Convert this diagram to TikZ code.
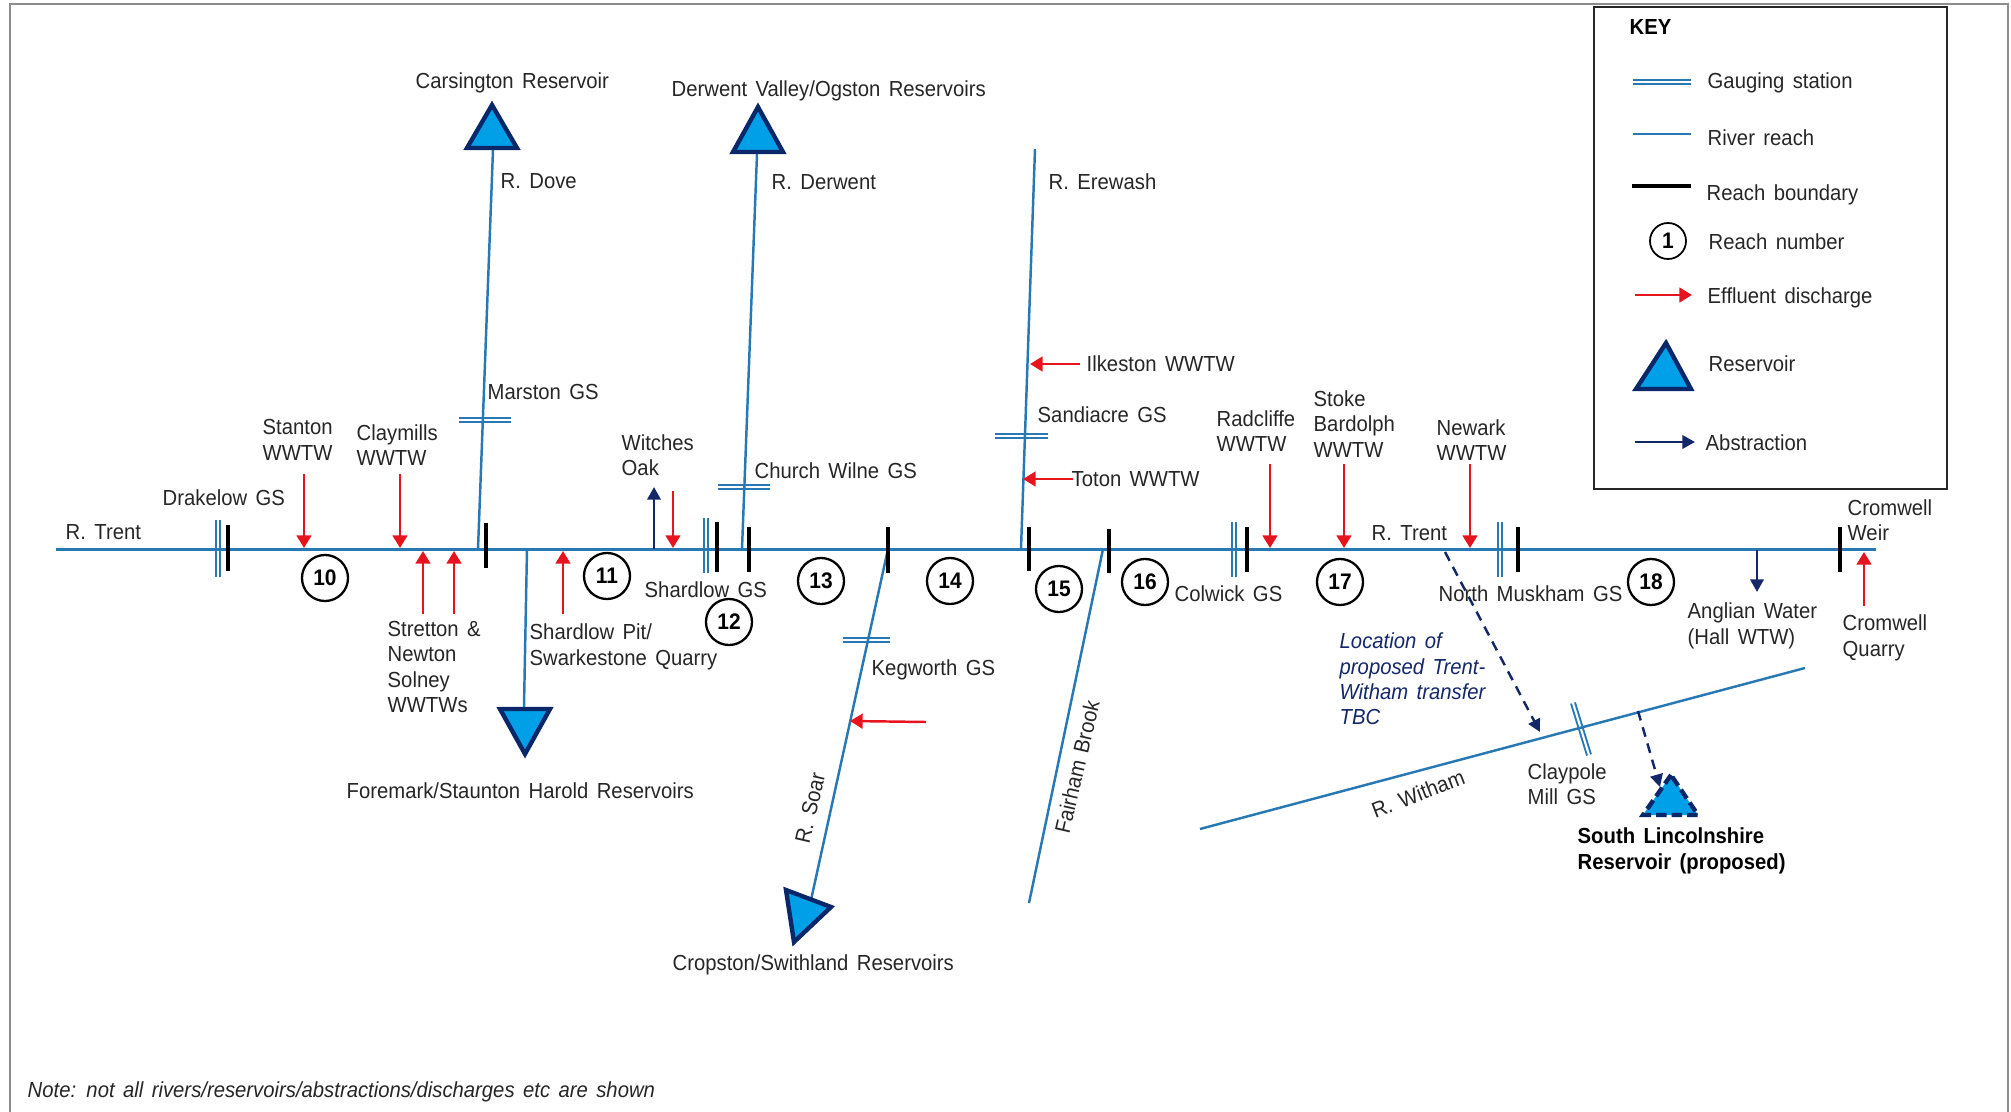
\documentclass[tikz,border=0pt]{standalone}
\usepackage{fontspec}
\setmainfont[WordSpace=1.5,FakeStretch=0.93]{Liberation Sans}
\usetikzlibrary{arrows.meta}
\definecolor{RiverBlue}{RGB}{40,120,180}
\definecolor{ResFill}{RGB}{0,160,232}
\definecolor{ResEdge}{RGB}{10,40,105}
\definecolor{EffRed}{RGB}{230,20,30}
\definecolor{AbsNavy}{RGB}{20,40,105}
\definecolor{LabelGrey}{RGB}{38,38,38}
\definecolor{FrameGrey}{RGB}{140,140,140}

\tikzset{
  lbl/.style={anchor=west, align=left, inner sep=0pt, text=LabelGrey, font=\fontsize{6.2}{7.2}\selectfont},
  river/.style={draw=RiverBlue, line width=.7pt},
  trent/.style={draw=RiverBlue, line width=.95pt},
  gauge/.style={draw=RiverBlue, double=white, line width=.55pt, double distance=.6pt},
  boundary/.style={draw=black, line width=1.35pt},
  reach/.style={draw=black, circle, line width=.65pt, minimum size=.46cm, inner sep=0pt, font=\fontsize{6.4}{7}\selectfont\bfseries},
  effluent/.style={draw=EffRed, line width=.7pt, -{Triangle[length=3.6pt,width=4.2pt]}},
  abstraction/.style={draw=AbsNavy, line width=.7pt, -{Triangle[length=3.6pt,width=3.8pt]}},
  transfer/.style={draw=AbsNavy, line width=.7pt, dash pattern=on 2.8pt off 2pt, -{Triangle[length=3.6pt,width=3.6pt]}},
  resv/.style={draw=ResEdge, fill=ResFill, line width=1.25pt, line join=miter},
}

\begin{document}
\begin{tikzpicture}[x=.01cm, y=-.01cm]
  \useasboundingbox (0,0) rectangle (2011,1112);
  \draw[FrameGrey, line width=.5pt] (10,1112) -- (10,4) -- (2008,4) -- (2008,1112);

  % main river points
  \coordinate (trentW) at (56,549.5);
  \coordinate (trentE) at (1876,549.5);
  \coordinate (doveJ) at (478,549);
  \coordinate (doveN) at (493,150);
  \coordinate (foreJ) at (527,549);
  \coordinate (foreS) at (524,707);
  \coordinate (derwJ) at (742,549);
  \coordinate (derwN) at (757,154);
  \coordinate (soarJ) at (888,549);
  \coordinate (soarS) at (811,900);
  \coordinate (ereJ) at (1021,549);
  \coordinate (ereN) at (1035,149);
  \coordinate (fairJ) at (1103,549);
  \coordinate (fairS) at (1029,903);
  \coordinate (withW) at (1200,829);
  \coordinate (withE) at (1805,668);

  % gauging stations go under the rivers
  \coordinate (g1a) at (218,520); \coordinate (g1b) at (218,577);
  \coordinate (g2a) at (706,518); \coordinate (g2b) at (706,573);
  \coordinate (g3a) at (1234,522); \coordinate (g3b) at (1234,577);
  \coordinate (g4a) at (1500,522); \coordinate (g4b) at (1500,577);
  \coordinate (g5a) at (459,420); \coordinate (g5b) at (511,420);
  \coordinate (g6a) at (718,487); \coordinate (g6b) at (770,487);
  \coordinate (g7a) at (995,436); \coordinate (g7b) at (1048,436);
  \coordinate (g8a) at (843,640); \coordinate (g8b) at (890,640);
  \coordinate (g9a) at (1573,703); \coordinate (g9b) at (1589,755);
  \draw[gauge] (g1a) -- (g1b);
  \draw[gauge] (g2a) -- (g2b);
  \draw[gauge] (g3a) -- (g3b);
  \draw[gauge] (g4a) -- (g4b);
  \draw[gauge] (g5a) -- (g5b);
  \draw[gauge] (g6a) -- (g6b);
  \draw[gauge] (g7a) -- (g7b);
  \draw[gauge] (g8a) -- (g8b);
  \draw[gauge] (g9a) -- (g9b);

  \draw[trent] (trentW) -- (trentE);
  \draw[river] (doveJ) -- (doveN);
  \draw[river] (foreJ) -- (foreS);
  \draw[river] (derwJ) -- (derwN);
  \draw[river] (soarJ) -- (soarS);
  \draw[river] (ereJ) -- (ereN);
  \draw[river] (fairJ) -- (fairS);
  \draw[river] (withW) -- (withE);

  % reach boundaries
  \coordinate (b1a) at (228,525); \coordinate (b1b) at (228,571);
  \coordinate (b2a) at (486,523); \coordinate (b2b) at (486,568);
  \coordinate (b3a) at (717,522); \coordinate (b3b) at (717,572);
  \coordinate (b4a) at (749,527); \coordinate (b4b) at (749,572);
  \coordinate (b5a) at (888,527); \coordinate (b5b) at (888,573);
  \coordinate (b6a) at (1029,527); \coordinate (b6b) at (1029,571);
  \coordinate (b7a) at (1109,529); \coordinate (b7b) at (1109,573);
  \coordinate (b8a) at (1247,527); \coordinate (b8b) at (1247,572);
  \coordinate (b9a) at (1518,527); \coordinate (b9b) at (1518,572);
  \coordinate (b10a) at (1840,527); \coordinate (b10b) at (1840,572);
  \draw[boundary] (b1a) -- (b1b);
  \draw[boundary] (b2a) -- (b2b);
  \draw[boundary] (b3a) -- (b3b);
  \draw[boundary] (b4a) -- (b4b);
  \draw[boundary] (b5a) -- (b5b);
  \draw[boundary] (b6a) -- (b6b);
  \draw[boundary] (b7a) -- (b7b);
  \draw[boundary] (b8a) -- (b8b);
  \draw[boundary] (b9a) -- (b9b);
  \draw[boundary] (b10a) -- (b10b);

  % reach numbers
  \node[reach] (r10) at (325,578) {10};
  \node[reach] (r11) at (607,576) {11};
  \node[reach] (r12) at (729,622) {12};
  \node[reach] (r13) at (821,581) {13};
  \node[reach] (r14) at (950,581) {14};
  \node[reach] (r15) at (1059,589) {15};
  \node[reach] (r16) at (1145,582) {16};
  \node[reach] (r17) at (1340,582) {17};
  \node[reach] (r18) at (1651,582) {18};

  % effluent discharges
  \coordinate (e1a) at (304,474); \coordinate (e1b) at (304,548);
  \coordinate (e2a) at (400,474); \coordinate (e2b) at (400,548);
  \coordinate (e3a) at (423,614); \coordinate (e3b) at (423,551);
  \coordinate (e4a) at (454,614); \coordinate (e4b) at (454,551);
  \coordinate (e5a) at (563,614); \coordinate (e5b) at (563,551);
  \coordinate (e6a) at (673,491); \coordinate (e6b) at (673,548);
  \coordinate (e7a) at (1080,364); \coordinate (e7b) at (1030,364);
  \coordinate (e8a) at (1073,479); \coordinate (e8b) at (1023,479);
  \coordinate (e9a) at (926,722); \coordinate (e9b) at (850,721);
  \coordinate (e10a) at (1270,464); \coordinate (e10b) at (1270,548);
  \coordinate (e11a) at (1344,464); \coordinate (e11b) at (1344,548);
  \coordinate (e12a) at (1470,464); \coordinate (e12b) at (1470,548);
  \coordinate (e13a) at (1864,606); \coordinate (e13b) at (1864,552);
  \draw[effluent] (e1a) -- (e1b);
  \draw[effluent] (e2a) -- (e2b);
  \draw[effluent] (e3a) -- (e3b);
  \draw[effluent] (e4a) -- (e4b);
  \draw[effluent] (e5a) -- (e5b);
  \draw[effluent] (e6a) -- (e6b);
  \draw[effluent] (e7a) -- (e7b);
  \draw[effluent] (e8a) -- (e8b);
  \draw[effluent] (e9a) -- (e9b);
  \draw[effluent] (e10a) -- (e10b);
  \draw[effluent] (e11a) -- (e11b);
  \draw[effluent] (e12a) -- (e12b);
  \draw[effluent] (e13a) -- (e13b);

  % abstractions and proposed transfer
  \coordinate (a1a) at (654,549); \coordinate (a1b) at (654,487);
  \coordinate (a2a) at (1757,550); \coordinate (a2b) at (1757,592);
  \coordinate (t1a) at (1445,552); \coordinate (t1b) at (1540,732);
  \coordinate (t2a) at (1638,711); \coordinate (t2b) at (1660,787);
  \draw[abstraction] (a1a) -- (a1b);
  \draw[abstraction] (a2a) -- (a2b);
  \draw[transfer] (t1a) -- (t1b);

  % reservoirs
  \draw[resv] (492,105) -- (467,148) -- (517,148) -- cycle;
  \draw[resv] (758,107) -- (733,152) -- (783,152) -- cycle;
  \draw[resv] (500,709) -- (550,709) -- (525,754) -- cycle;
  \draw[resv] (786,890) -- (831,907) -- (794,942) -- cycle;
  \draw[resv, dash pattern=on 3pt off 1.4pt] (1671,775) -- (1643,815) -- (1698,815) -- cycle;
  \draw[transfer] (t2a) -- (t2b);

  % labels
  \node[lbl] (carsL) at (415,83) {Carsington Reservoir};
  \node[lbl] (derwL) at (671,91) {Derwent Valley/Ogston Reservoirs};
  \node[lbl] (doveL) at (500,181) {R. Dove};
  \node[lbl] (rderL) at (771,182) {R. Derwent};
  \node[lbl] (ereL) at (1048,182) {R. Erewash};
  \node[lbl] (ilkL) at (1086,364) {Ilkeston WWTW};
  \node[lbl] (marsL) at (487,392) {Marston GS};
  \node[lbl] (sandL) at (1037,415) {Sandiacre GS};
  \node[lbl] (stanL) at (262,440) {Stanton\\WWTW};
  \node[lbl] (clayL) at (356,445) {Claymills\\WWTW};
  \node[lbl] (drakL) at (162,498) {Drakelow GS};
  \node[lbl] (tr1L) at (65,532) {R. Trent};
  \node[lbl] (witcL) at (621,455) {Witches\\Oak};
  \node[lbl] (chuL) at (754,471) {Church Wilne GS};
  \node[lbl] (totL) at (1071,479) {Toton WWTW};
  \node[lbl] (radL) at (1216,431) {Radcliffe\\WWTW};
  \node[lbl] (stoL) at (1313,424) {Stoke\\Bardolph\\WWTW};
  \node[lbl] (newL) at (1436,440) {Newark\\WWTW};
  \node[lbl] (tr2L) at (1371,533) {R. Trent};
  \node[lbl] (weirL) at (1847,520) {Cromwell\\Weir};
  \node[lbl] (strL) at (387,667) {Stretton \&\\Newton\\Solney\\WWTWs};
  \node[lbl] (pitL) at (529,647) {Shardlow Pit/\\Swarkestone Quarry};
  \node[lbl] (shaL) at (644,590) {Shardlow GS};
  \node[lbl] (foreL) at (346,791) {Foremark/Staunton Harold Reservoirs};
  \node[lbl] (kegL) at (871,670) {Kegworth GS};
  \node[lbl, anchor=center, rotate=77] (soarL) at (810,808) {R. Soar};
  \node[lbl, anchor=center, rotate=77] (fairL) at (1077,767) {Fairham Brook};
  \node[lbl] (cropL) at (672,965) {Cropston/Swithland Reservoirs};
  \node[lbl] (colL) at (1174,594) {Colwick GS};
  \node[lbl] (muskL) at (1438,594) {North Muskham GS};
  \node[lbl] (angL) at (1687,626) {Anglian Water\\(Hall WTW)};
  \node[lbl] (quaL) at (1842,638) {Cromwell\\Quarry};
  \node[lbl, text=AbsNavy, font=\fontsize{6.2}{7.2}\selectfont\itshape] (locL) at (1339,679) {Location of\\proposed Trent-\\Witham transfer\\TBC};
  \node[lbl, anchor=center, rotate=21] (withL) at (1418,794) {R. Witham};
  \node[lbl] (claL) at (1527,784) {Claypole\\Mill GS};
  \node[lbl, text=black, font=\fontsize{6.2}{7.2}\selectfont\bfseries] (soLL) at (1577,851) {South Lincolnshire\\Reservoir (proposed)};
  \node[lbl, font=\fontsize{6.2}{7.2}\selectfont\itshape] (noteL) at (27,1092) {Note: not all rivers/reservoirs/abstractions/discharges etc are shown};

  % key
  \draw[LabelGrey, line width=.8pt, fill=none] (1594,7) rectangle (1947,489);
  \node[lbl, text=black, font=\fontsize{6.2}{7.2}\selectfont\bfseries] (keyL) at (1629,27) {KEY};
  \coordinate (kg1) at (1633,82); \coordinate (kg2) at (1691,82);
  \coordinate (kr1) at (1633,134); \coordinate (kr2) at (1691,134);
  \coordinate (kb1) at (1632,186); \coordinate (kb2) at (1691,186);
  \coordinate (ke1) at (1635,295); \coordinate (ke2) at (1692,295);
  \coordinate (ka1) at (1635,442); \coordinate (ka2) at (1695,442);
  \draw[gauge] (kg1) -- (kg2);
  \draw[river] (kr1) -- (kr2);
  \draw[boundary] (kb1) -- (kb2);
  \node[reach, minimum size=.36cm, line width=.5pt] (kn) at (1668,241) {1};
  \draw[effluent] (ke1) -- (ke2);
  \draw[resv] (1666,343) -- (1636,389) -- (1691,389) -- cycle;
  \draw[abstraction] (ka1) -- (ka2);
  \node[lbl] (kgL) at (1707,83) {Gauging station};
  \node[lbl] (krL) at (1707,138) {River reach};
  \node[lbl] (kbL) at (1706,195) {Reach boundary};
  \node[lbl] (knL) at (1708,242) {Reach number};
  \node[lbl] (keL) at (1707,298) {Effluent discharge};
  \node[lbl] (kvL) at (1708,364) {Reservoir};
  \node[lbl] (kaL) at (1705,443) {Abstraction};
\end{tikzpicture}
\end{document}
